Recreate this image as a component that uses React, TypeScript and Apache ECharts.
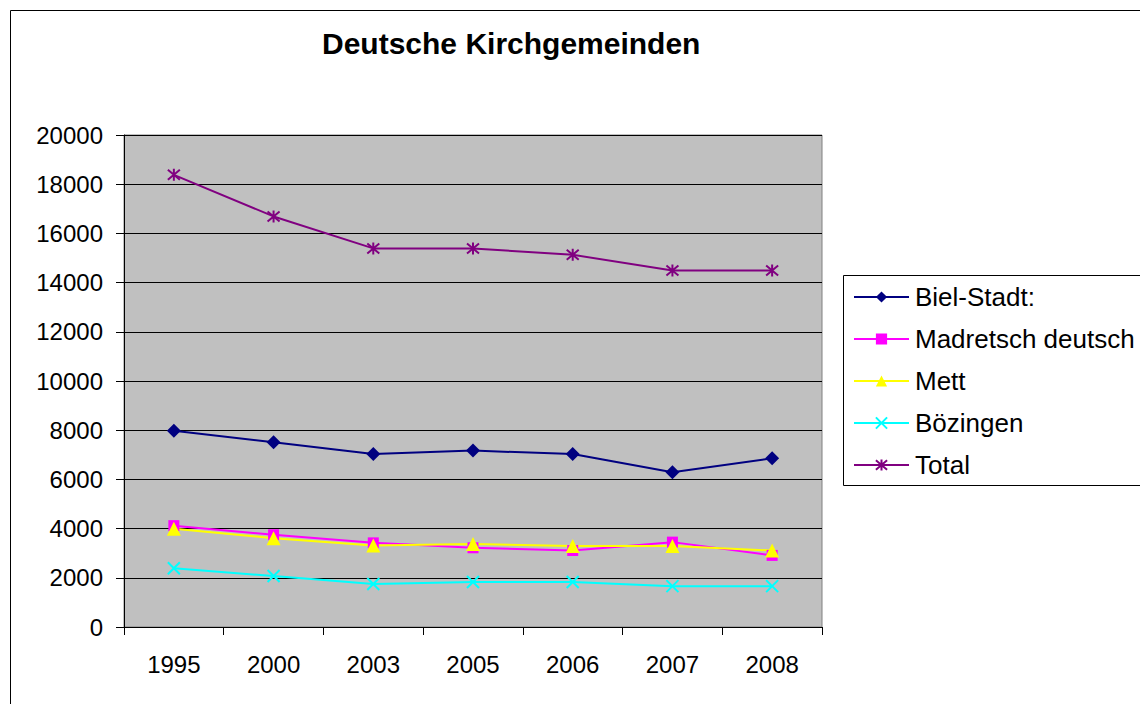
import React, { useEffect, useRef } from "react";
import * as echarts from "echarts";

const categories = ["1995", "2000", "2003", "2005", "2006", "2007", "2008"];
const bielStadt = [7980, 7510, 7030, 7170, 7030, 6290, 6860];
const madretsch = [4120, 3750, 3420, 3220, 3110, 3450, 2910];
const mett = [3990, 3610, 3310, 3370, 3290, 3290, 3110];
const boezingen = [2390, 2070, 1750, 1830, 1830, 1660, 1660];
const total = [18380, 16690, 15390, 15390, 15130, 14490, 14490];
const seriesNames = ["Biel-Stadt:", "Madretsch deutsch", "Mett", "Bözingen", "Total"];

const FONT = "'Liberation Sans', Arial, sans-serif";
const X_PATH = "path://M0 0 L10 10 M10 0 L0 10";
const STAR_PATH = "path://M0 0 L10 10 M10 0 L0 10 M5 -1 L5 11";

export default function App() {
  const ref = useRef<HTMLDivElement>(null);
  useEffect(() => {
    document.body.style.margin = "0";
    const chart = echarts.init(ref.current!, null, { renderer: "svg" });
    const mk = (name: string, data: number[], color: string, symbol: string, size: number, stroke: boolean) => ({
      name,
      type: "line",
      data,
      symbol,
      symbolSize: size,
      lineStyle: { color, width: 2 },
      itemStyle: stroke
        ? { color: "transparent", borderColor: color, borderWidth: 2 }
        : { color, borderColor: color, borderWidth: 0 },
      emphasis: { disabled: true },
    });
    chart.setOption({
      animation: false,
      backgroundColor: "#ffffff",
      title: {
        text: "Deutsche Kirchgemeinden",
        left: 322,
        top: 28,
        padding: 0,
        textStyle: { fontFamily: FONT, fontSize: 30, fontWeight: "bold", color: "#000" },
      },
      graphic: [
        {
          type: "rect",
          shape: { x: 10.5, y: 10.5, width: 1200, height: 800 },
          style: { fill: "transparent", stroke: "#000", lineWidth: 1 },
          silent: true,
        },
        {
          type: "rect",
          shape: { x: 843.5, y: 275.5, width: 400, height: 210 },
          style: { fill: "transparent", stroke: "#000", lineWidth: 1 },
          silent: true,
        },
      ],
      legend: {
        orient: "vertical",
        left: 843,
        top: 275,
        padding: [8, 10, 7, 10],
        itemWidth: 55,
        itemHeight: 14,
        itemGap: 14,
        data: seriesNames,
        textStyle: { fontFamily: FONT, fontSize: 26, color: "#000", lineHeight: 28, padding: [0, 0, 0, 1] },
      },
      grid: {
        left: 124,
        top: 135,
        right: 318,
        bottom: 77,
        show: true,
        backgroundColor: "#c0c0c0",
        borderColor: "#808080",
        borderWidth: 1,
      },
      xAxis: {
        type: "category",
        data: categories,
        boundaryGap: true,
        axisLine: { show: true, lineStyle: { color: "#000", width: 1 } },
        axisTick: { show: true, length: 8, lineStyle: { color: "#000" } },
        axisLabel: { fontFamily: FONT, fontSize: 24, color: "#000", margin: 25 },
      },
      yAxis: {
        type: "value",
        min: 0,
        max: 20000,
        interval: 2000,
        axisLine: { show: true, lineStyle: { color: "#000", width: 1 } },
        axisTick: { show: true, length: 8, lineStyle: { color: "#000" } },
        axisLabel: {
          fontFamily: FONT,
          fontSize: 24,
          color: "#000",
          margin: 21,
          formatter: (v: number) => String(v),
        },
        splitLine: { show: true, lineStyle: { color: "#000", width: 1 } },
      },
      series: [
        mk(seriesNames[0], bielStadt, "#000080", "diamond", 14, false),
        mk(seriesNames[1], madretsch, "#ff00ff", "rect", 11, false),
        mk(seriesNames[2], mett, "#ffff00", "triangle", 14, false),
        mk(seriesNames[3], boezingen, "#00ffff", X_PATH, 12, true),
        mk(seriesNames[4], total, "#800080", STAR_PATH, 12, true),
      ],
    });
    return () => chart.dispose();
  }, []);
  return <div ref={ref} style={{ width: 1140, height: 704 }} />;
}
